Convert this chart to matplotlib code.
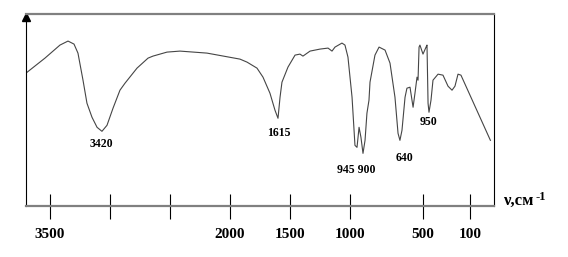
import numpy as np
import matplotlib.pyplot as plt

# ИК-спектр: волновое число (см-1) и пропускание (усл. ед.)
wavenumber = [3690, 3542, 3417, 3350, 3300, 3267, 3225, 3192, 3150, 3108,
              3067, 3025, 2975, 2917, 2875, 2775, 2683, 2642, 2525, 2417,
              2192, 1917, 1858, 1775, 1725, 1667, 1625, 1600, 1583, 1567,
              1517, 1458, 1417, 1392, 1333, 1250, 1183, 1150, 1125, 1067,
              1042, 1017, 986, 966, 952, 938, 925, 911, 897, 884,
              870, 863, 829, 801, 760, 726, 692, 671, 658, 644,
              623, 610, 589, 568, 555, 541, 534, 527, 521, 500,
              474, 466, 457, 449, 432, 415, 372, 330, 287, 253,
              228, 202, 177, -70]
transmit = [133, 147, 160, 164, 161, 152, 125, 102, 88, 78,
            74, 80, 97, 115, 122, 137, 147, 149, 153, 154,
            152, 146, 143, 137, 128, 112, 95, 87, 108, 123,
            138, 150, 151, 149, 154, 156, 157, 154, 158, 162,
            160, 148, 108, 60, 58, 78, 68, 52, 65, 92,
            105, 123, 150, 158, 155, 142, 108, 72, 65, 75,
            108, 117, 118, 98, 112, 128, 125, 158, 160, 151,
            158, 160, 102, 93, 105, 125, 131, 130, 119, 115,
            119, 131, 130, 65]

tick_values = [3500, 3000, 2500, 2000, 1500, 1000, 500, 100]
tick_labels = ['3500', '', '', '2000', '1500', '1000', '500', '100']

peak_labels = ['3420', '1615', '945 900', '640', '950']
peak_x = [3075, 1592, 959, 630, 452]
peak_y = [61, 72, 35, 47, 83]

# неравномерная шкала оси абсцисс, как на исходном рисунке
scale_wn = np.array([-100, 100, 500, 1000, 1500, 2000, 2500, 3000, 3500, 3700])
scale_px = np.array([494, 470, 423, 350, 290, 230, 170, 110, 50, 26], dtype=float)


def fwd(w):
    return np.interp(w, scale_wn, -scale_px)


def inv(p):
    return np.interp(p, -scale_px, scale_wn)


W, H = 568, 257
fig = plt.figure(figsize=(W / 100, H / 100), dpi=100)
ax = fig.add_axes([26 / W, (H - 205.5) / H, 468 / W, 191.5 / H])

ax.set_xscale('function', functions=(fwd, inv))
ax.plot(wavenumber, transmit, color='#454545', lw=0.8)
ax.set_xlim(3700, -100)
ax.set_ylim(0, 191)

for s in ['top', 'bottom']:
    ax.spines[s].set_color('#808080')
    ax.spines[s].set_linewidth(1.6)
for s in ['left', 'right']:
    ax.spines[s].set_color('black')
    ax.spines[s].set_linewidth(0.8)

ax.set_xticks(tick_values)
ax.set_xticklabels(tick_labels, fontfamily='Liberation Serif',
                   fontweight='bold', fontsize=11)
ax.xaxis.set_minor_locator(plt.NullLocator())
ax.tick_params(axis='x', direction='inout', length=18, width=0.8,
               color='black', pad=7)
ax.set_yticks([])

# стрелка оси ординат
ax.plot([0], [0.985], marker='^', color='black', markersize=6,
        transform=ax.transAxes, clip_on=False)

for txt, x, y in zip(peak_labels, peak_x, peak_y):
    ax.text(x, y, txt, ha='center', va='center', fontsize=8.5,
            fontfamily='Liberation Serif', fontweight='bold')

fig.text(503 / W, 1 - 205 / H, 'ν,см', fontfamily='Liberation Serif',
         fontweight='bold', fontsize=12, ha='left', va='baseline')
fig.text(535 / W, 1 - 200 / H, '-1', fontfamily='Liberation Serif',
         fontweight='bold', fontsize=9, ha='left', va='baseline')

fig.savefig('out.png', dpi=100)
